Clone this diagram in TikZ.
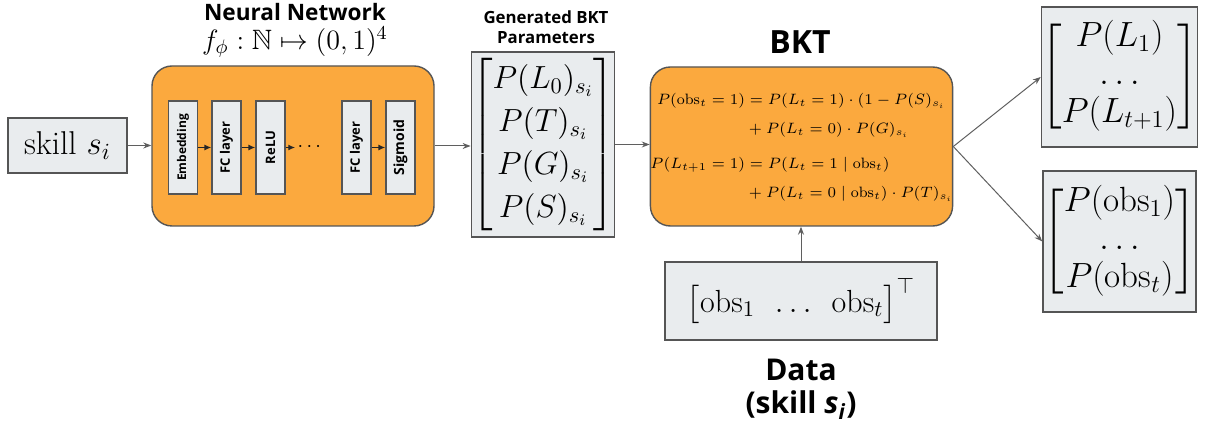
\RequirePackage{fix-cm}
\documentclass[tikz,border=0pt]{standalone}
\usepackage{amsmath,amssymb}
\usepackage{fontspec}
\newfontfamily\labelfont{Open Sans}
\usetikzlibrary{arrows.meta}

\definecolor{edge}{RGB}{85,85,85}
\definecolor{paper}{RGB}{233,236,238}
\definecolor{amber}{RGB}{251,169,62}
\definecolor{wire}{RGB}{95,95,95}

\begin{document}
\begin{tikzpicture}[x=0.5pt,y=-0.5pt,
  panel/.style={draw=edge,line width=0.7pt,fill=paper,inner sep=0pt},
  block/.style={draw=edge,line width=0.7pt,fill=amber,rounded corners=10pt,inner sep=0pt},
  layer/.style={draw=edge,line width=0.6pt,fill=paper,inner sep=0pt,
    minimum width=46.5pt,minimum height=14.5pt,rotate=90,
    font=\labelfont\bfseries\fontsize{6.5}{7}\selectfont},
  flow/.style={-{Stealth[length=4pt,width=3pt]},draw=wire,line width=0.5pt},
  inflow/.style={-{Latex[length=3.5pt,width=3pt]},draw=black!85,line width=0.7pt},
  heading/.style={font=\labelfont\bfseries#1,align=center},
]
\useasboundingbox (0,0) rectangle (1211,437);

% input skill
\node[panel,minimum width=59.5pt,minimum height=27.5pt,
  font=\fontsize{16.5}{20}\selectfont] (skill) at (67.5,145.5) {skill $s_i$};

% neural network block
\node[block,minimum width=141pt,minimum height=80pt] (nn) at (293,146) {};
\node[layer,font=\labelfont\bfseries\fontsize{6}{7}\selectfont] (emb) at (183,147.5) {Embedding};
\node[layer] (fca) at (226.5,147.5) {FC layer};
\node[layer] (relu) at (270.5,147.5) {ReLU};
\node[inner sep=1pt,font=\fontsize{10}{12}\selectfont] (dots) at (311,147.5) {$\cdots$};
\node[layer] (fcb) at (356.5,147.5) {FC layer};
\node[layer,font=\labelfont\bfseries\fontsize{7}{8}\selectfont] (sig) at (400.5,147.5) {Sigmoid};
\draw[inflow] (emb) -- (fca);
\draw[inflow] (fca) -- (relu);
\draw[inflow] (relu) -- (dots);
\draw[inflow] (fcb) -- (sig);

\node[heading=\fontsize{11.3}{13}\selectfont] (nntitle) at (295,12) {Neural Network};
\node[font=\fontsize{14}{17}\selectfont] (nnmap) at (295,42) {$f_\phi:\mathbb{N}\mapsto(0,1)^4$};

% generated parameters
\node[panel,minimum width=70pt,minimum height=92.5pt,
  font=\fontsize{16}{21.5}\selectfont] (params) at (543,144.5)
  {$\arraycolsep=2pt\begin{bmatrix} P(L_0)_{s_i}\\ P(T)_{s_i}\\ P(G)_{s_i}\\ P(S)_{s_i}\end{bmatrix}$};
\node[heading=\fontsize{8.4}{10}\selectfont] (partitle) at (546,27) {Generated BKT\\Parameters};

% BKT update block
\node[block,minimum width=146.5pt,minimum height=79.5pt,
  font=\fontsize{7.5}{11.5}\selectfont] (bkt) at (801.5,146.5)
  {$\begin{aligned}
    P(\mathrm{obs}_t=1) &= P(L_t=1)\cdot(1-P(S)_{s_i}\\
      &{}+P(L_t=0)\cdot P(G)_{s_i}\\[3pt]
    P(L_{t+1}=1) &= P(L_t=1\mid \mathrm{obs}_t)\\
      &{}+P(L_t=0\mid\mathrm{obs}_t)\cdot P(T)_{s_i}
  \end{aligned}$};
\node[heading=\fontsize{16}{19}\selectfont] (bkttitle) at (800,42) {BKT};

% observed data
\node[panel,minimum width=136pt,minimum height=39pt,
  font=\fontsize{16}{19}\selectfont] (data) at (801,301)
  {$\begin{bmatrix}\mathrm{obs}_1 & \ldots & \mathrm{obs}_t\end{bmatrix}^{\top}$};
\node[heading=\fontsize{15}{16.5}\selectfont] (datatitle) at (801,389)
  {Data\\(skill \textit{s}\textsubscript{\textit{i}})};

% outputs
\node[panel,minimum width=76.5pt,minimum height=70pt,
  font=\fontsize{17.5}{19}\selectfont] (outL) at (1119.5,77)
  {$\arraycolsep=2pt\begin{bmatrix}P(L_1)\\ \ldots\\ P(L_{t+1})\end{bmatrix}$};
\node[panel,minimum width=76.5pt,minimum height=70.5pt,
  font=\fontsize{17.5}{19}\selectfont] (outO) at (1119.5,241.5)
  {$\arraycolsep=2pt\begin{bmatrix}P(\mathrm{obs}_1)\\ \ldots\\ P(\mathrm{obs}_t)\end{bmatrix}$};

% connectors
\draw[flow] (skill.east) -- (skill.east -| nn.west);
\draw[flow] (nn.east) -- (nn.east -| params.west);
\draw[flow] (params.east) -- (params.east -| bkt.west);
\draw[flow] (data.north) -- (data.north |- bkt.south);
\draw[flow] (bkt.east) -- (outL.west);
\draw[flow] (bkt.east) -- (outO.west);
\end{tikzpicture}
\end{document}
